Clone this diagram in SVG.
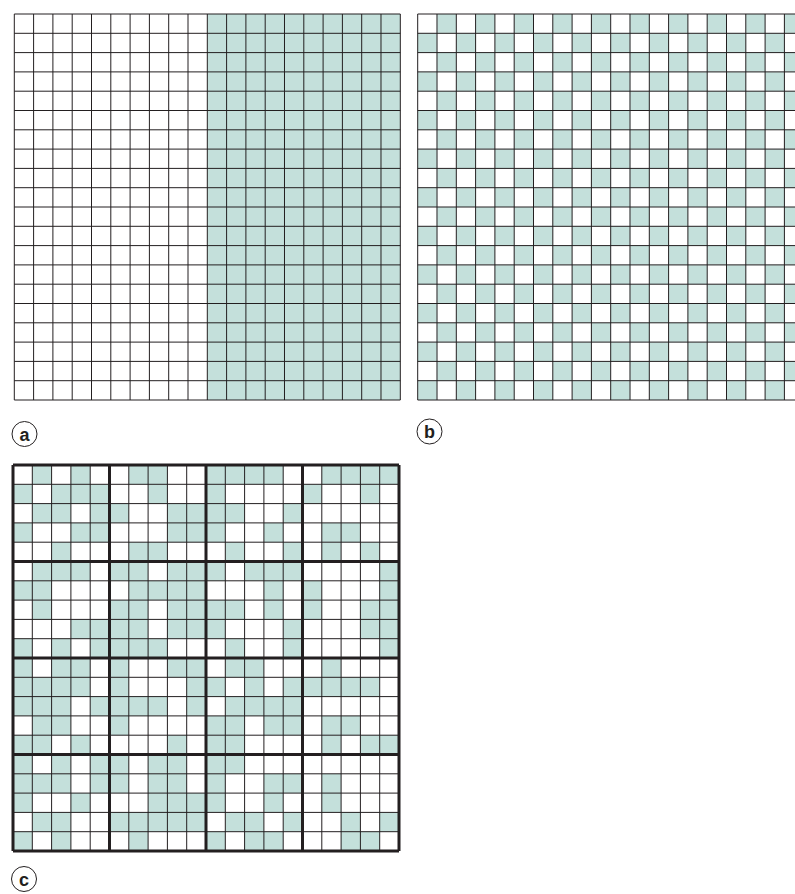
<svg xmlns="http://www.w3.org/2000/svg" width="795" height="894" viewBox="0 0 795 894">
<style>
.bg{fill:#ffffff}
.t{fill:#c4e0db}
.thin{fill:none;stroke:#231f20;stroke-width:1}
.thick{fill:none;stroke:#231f20;stroke-width:3}
.lbl circle{fill:#ffffff;stroke:#231f20;stroke-width:1}
.lbl text{font-family:"Liberation Sans",Arial,sans-serif;font-weight:bold;font-size:18px;fill:#231f20;text-anchor:middle}
</style>
<defs>
<path id="lines20" d="M0 0V20M1 0V20M2 0V20M3 0V20M4 0V20M5 0V20M6 0V20M7 0V20M8 0V20M9 0V20M10 0V20M11 0V20M12 0V20M13 0V20M14 0V20M15 0V20M16 0V20M17 0V20M18 0V20M19 0V20M20 0V20M0 0H20M0 1H20M0 2H20M0 3H20M0 4H20M0 5H20M0 6H20M0 7H20M0 8H20M0 9H20M0 10H20M0 11H20M0 12H20M0 13H20M0 14H20M0 15H20M0 16H20M0 17H20M0 18H20M0 19H20M0 20H20" vector-effect="non-scaling-stroke"/>
<pattern id="checker" patternUnits="userSpaceOnUse" x="0" y="0" width="2" height="2">
<rect x="1" y="0" width="1" height="1" fill="#c4e0db"/>
<rect x="0" y="1" width="1" height="1" fill="#c4e0db"/>
</pattern>
</defs>

<g id="grid-a" transform="translate(14.3,14) scale(19.3)">
<rect class="bg" x="0" y="0" width="20" height="20"/>
<rect class="t" x="10" y="0" width="10" height="20"/>
<use href="#lines20" class="thin"/>
</g>

<g id="grid-b" transform="translate(417.7,14) scale(19.3)">
<rect class="bg" x="0" y="0" width="20" height="20"/>
<rect x="0" y="0" width="20" height="20" fill="url(#checker)"/>
<use href="#lines20" class="thin"/>
</g>

<g id="grid-c" transform="translate(13,465) scale(19.3)">
<rect class="bg" x="0" y="0" width="20" height="20"/>
<g class="t">
<!-- row 0 -->
<rect x="1" y="0" width="1" height="1"/><rect x="3" y="0" width="1" height="1"/><rect x="6" y="0" width="2" height="1"/><rect x="10" y="0" width="4" height="1"/><rect x="16" y="0" width="4" height="1"/>
<!-- row 1 -->
<rect x="0" y="1" width="1" height="1"/><rect x="2" y="1" width="3" height="1"/><rect x="7" y="1" width="1" height="1"/><rect x="10" y="1" width="1" height="1"/><rect x="15" y="1" width="1" height="1"/><rect x="18" y="1" width="1" height="1"/>
<!-- row 2 -->
<rect x="1" y="2" width="2" height="1"/><rect x="4" y="2" width="2" height="1"/><rect x="8" y="2" width="4" height="1"/><rect x="14" y="2" width="1" height="1"/>
<!-- row 3 -->
<rect x="0" y="3" width="1" height="1"/><rect x="3" y="3" width="2" height="1"/><rect x="8" y="3" width="3" height="1"/><rect x="13" y="3" width="1" height="1"/><rect x="16" y="3" width="2" height="1"/>
<!-- row 4 -->
<rect x="2" y="4" width="1" height="1"/><rect x="6" y="4" width="2" height="1"/><rect x="11" y="4" width="1" height="1"/><rect x="14" y="4" width="1" height="1"/><rect x="16" y="4" width="1" height="1"/><rect x="18" y="4" width="1" height="1"/>
<!-- row 5 -->
<rect x="1" y="5" width="3" height="1"/><rect x="5" y="5" width="2" height="1"/><rect x="8" y="5" width="3" height="1"/><rect x="12" y="5" width="3" height="1"/><rect x="19" y="5" width="1" height="1"/>
<!-- row 6 -->
<rect x="0" y="6" width="2" height="1"/><rect x="6" y="6" width="4" height="1"/><rect x="13" y="6" width="1" height="1"/><rect x="15" y="6" width="1" height="1"/><rect x="19" y="6" width="1" height="1"/>
<!-- row 7 -->
<rect x="1" y="7" width="1" height="1"/><rect x="5" y="7" width="2" height="1"/><rect x="8" y="7" width="4" height="1"/><rect x="13" y="7" width="1" height="1"/><rect x="15" y="7" width="1" height="1"/><rect x="18" y="7" width="2" height="1"/>
<!-- row 8 -->
<rect x="3" y="8" width="4" height="1"/><rect x="8" y="8" width="3" height="1"/><rect x="14" y="8" width="1" height="1"/><rect x="18" y="8" width="2" height="1"/>
<!-- row 9 -->
<rect x="0" y="9" width="1" height="1"/><rect x="2" y="9" width="1" height="1"/><rect x="4" y="9" width="4" height="1"/><rect x="11" y="9" width="1" height="1"/><rect x="14" y="9" width="1" height="1"/><rect x="19" y="9" width="1" height="1"/>
<!-- row 10 -->
<rect x="0" y="10" width="1" height="1"/><rect x="2" y="10" width="2" height="1"/><rect x="5" y="10" width="1" height="1"/><rect x="8" y="10" width="2" height="1"/><rect x="11" y="10" width="2" height="1"/><rect x="16" y="10" width="1" height="1"/>
<!-- row 11 -->
<rect x="0" y="11" width="4" height="1"/><rect x="5" y="11" width="1" height="1"/><rect x="9" y="11" width="2" height="1"/><rect x="12" y="11" width="1" height="1"/><rect x="14" y="11" width="5" height="1"/>
<!-- row 12 -->
<rect x="0" y="12" width="3" height="1"/><rect x="4" y="12" width="4" height="1"/><rect x="9" y="12" width="1" height="1"/><rect x="11" y="12" width="4" height="1"/>
<!-- row 13 -->
<rect x="1" y="13" width="2" height="1"/><rect x="5" y="13" width="1" height="1"/><rect x="10" y="13" width="2" height="1"/><rect x="13" y="13" width="2" height="1"/><rect x="16" y="13" width="2" height="1"/>
<!-- row 14 -->
<rect x="0" y="14" width="2" height="1"/><rect x="3" y="14" width="1" height="1"/><rect x="8" y="14" width="1" height="1"/><rect x="10" y="14" width="2" height="1"/><rect x="16" y="14" width="1" height="1"/><rect x="18" y="14" width="2" height="1"/>
<!-- row 15 -->
<rect x="0" y="15" width="1" height="1"/><rect x="2" y="15" width="1" height="1"/><rect x="4" y="15" width="2" height="1"/><rect x="7" y="15" width="2" height="1"/><rect x="10" y="15" width="2" height="1"/>
<!-- row 16 -->
<rect x="0" y="16" width="3" height="1"/><rect x="4" y="16" width="2" height="1"/><rect x="7" y="16" width="2" height="1"/><rect x="10" y="16" width="1" height="1"/><rect x="13" y="16" width="2" height="1"/><rect x="16" y="16" width="1" height="1"/>
<!-- row 17 -->
<rect x="0" y="17" width="1" height="1"/><rect x="3" y="17" width="1" height="1"/><rect x="7" y="17" width="4" height="1"/><rect x="13" y="17" width="1" height="1"/><rect x="16" y="17" width="1" height="1"/>
<!-- row 18 -->
<rect x="1" y="18" width="2" height="1"/><rect x="5" y="18" width="5" height="1"/><rect x="11" y="18" width="2" height="1"/><rect x="14" y="18" width="1" height="1"/><rect x="17" y="18" width="1" height="1"/><rect x="19" y="18" width="1" height="1"/>
<!-- row 19 -->
<rect x="0" y="19" width="1" height="1"/><rect x="2" y="19" width="1" height="1"/><rect x="6" y="19" width="1" height="1"/><rect x="10" y="19" width="1" height="1"/><rect x="12" y="19" width="2" height="1"/><rect x="17" y="19" width="2" height="1"/>
</g>
<use href="#lines20" class="thin"/>
<path class="thick" vector-effect="non-scaling-stroke" d="M0 0V20M5 0V20M10 0V20M15 0V20M20 0V20M0 0H20M0 5H20M0 10H20M0 15H20M0 20H20"/>
</g>

<g id="label-a" class="lbl">
<circle cx="24.5" cy="434" r="12.5"/>
<text x="24.5" y="440.5">a</text>
</g>
<g id="label-b" class="lbl">
<circle cx="429.5" cy="431.5" r="12.5"/>
<text x="429.5" y="438">b</text>
</g>
<g id="label-c" class="lbl">
<circle cx="24" cy="879" r="12.5"/>
<text x="24" y="885.5">c</text>
</g>
</svg>
